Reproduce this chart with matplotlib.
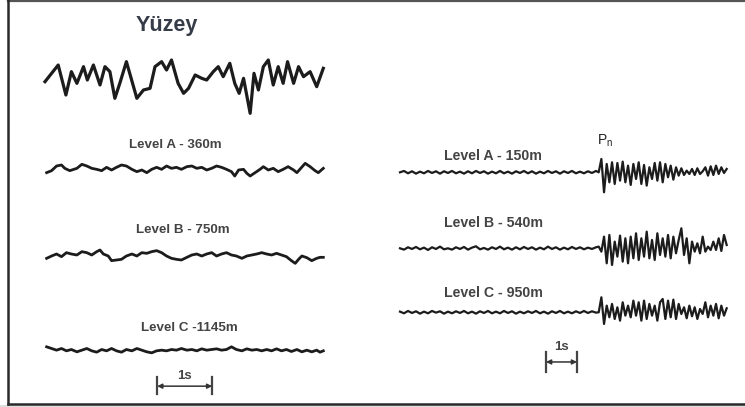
import numpy as np
import matplotlib
matplotlib.use('Agg')
import matplotlib.pyplot as plt

W, H = 745, 407
INK = '#1c1c1c'
LABEL = '#444444'
FONT = 'Liberation Sans'

# ---------------- data (time in s, amplitude in counts) ----------------
# surface record (Yuzey)
yuzey_t = [0.00, 0.24, 0.38, 0.48, 0.58, 0.70, 0.77, 0.88, 1.00, 1.09, 1.18, 1.27,
           1.36, 1.48, 1.67, 1.79, 1.91, 2.00, 2.12, 2.21, 2.30, 2.42, 2.52, 2.61,
           2.73, 2.85, 2.94, 3.06, 3.15, 3.24, 3.36, 3.45, 3.53, 3.61, 3.73, 3.80,
           3.88, 3.97, 4.06, 4.15, 4.24, 4.33, 4.41, 4.52, 4.61, 4.70, 4.82, 4.94, 5.06]
yuzey_a = [-5, 45, -45, 25, -10, 40, 0, 45, -15, 40, 25, -55, -10, 55, -55, -30,
           -25, 40, 55, 30, 60, -10, -40, -25, 15, 5, 0, 25, 40, 10, 50, -10,
           -40, 5, -100, 20, -30, 40, 60, -15, 40, -10, 55, -10, 40, 10, 25, -20, 35]

# borehole, site 1
a360_t = [0.03, 0.12, 0.21, 0.30, 0.36, 0.45, 0.58, 0.67, 0.76, 0.85, 0.94, 1.03,
          1.12, 1.21, 1.30, 1.39, 1.48, 1.58, 1.67, 1.76, 1.85, 1.94, 2.03, 2.12,
          2.21, 2.30, 2.39, 2.48, 2.58, 2.67, 2.76, 2.85, 2.94, 3.03, 3.12, 3.21,
          3.30, 3.39, 3.45, 3.52, 3.61, 3.67, 3.73, 3.82, 3.91, 3.97, 4.06, 4.15,
          4.24, 4.33, 4.42, 4.52, 4.58, 4.65, 4.73, 4.82, 4.91, 4.97, 5.06]
a360_a = [-8, -2, 12, 15, 5, -2, 5, 17, 12, 5, 2, -2, 8, 0, 8, 15, 12, 2, -5, 0,
          -8, 2, 8, 2, 12, 5, 8, 2, 10, 12, 5, 8, 0, 5, 12, 8, 2, -5, -18, 0,
          2, -10, -18, -8, 2, 10, 0, 5, -5, 2, 10, 0, -8, 5, 20, 10, -2, -8, 5]

b750_t = [0.03, 0.12, 0.21, 0.30, 0.39, 0.48, 0.58, 0.67, 0.76, 0.85, 0.94, 1.00,
          1.06, 1.15, 1.21, 1.30, 1.39, 1.48, 1.58, 1.67, 1.76, 1.85, 1.94, 2.03,
          2.12, 2.21, 2.30, 2.39, 2.48, 2.58, 2.67, 2.76, 2.85, 2.94, 3.03, 3.12,
          3.21, 3.30, 3.39, 3.48, 3.58, 3.67, 3.76, 3.85, 3.94, 4.03, 4.12, 4.21,
          4.30, 4.39, 4.48, 4.55, 4.61, 4.67, 4.76, 4.85, 4.94, 5.00, 5.06]
b750_a = [-7, 0, 6, -2, 10, 6, 3, 13, 10, 3, 13, 18, 6, 0, -14, -12, -10, 0, 6, 0,
          10, 8, 13, 16, 10, 0, -7, -10, -12, -4, 3, 6, 0, 6, 10, 0, 6, 10, 3, 0,
          -7, 0, 3, 6, 10, 6, 3, 8, 3, -2, -14, -22, -10, 0, -5, -14, -7, -4, -4]

c1145_t = [0.03, 0.12, 0.21, 0.30, 0.39, 0.48, 0.58, 0.67, 0.76, 0.85, 0.94, 1.03,
           1.12, 1.21, 1.30, 1.39, 1.48, 1.58, 1.67, 1.76, 1.85, 1.94, 2.03, 2.12,
           2.21, 2.30, 2.39, 2.48, 2.58, 2.67, 2.76, 2.85, 2.94, 3.03, 3.12, 3.21,
           3.30, 3.39, 3.48, 3.58, 3.67, 3.76, 3.85, 3.94, 4.03, 4.12, 4.21, 4.30,
           4.39, 4.48, 4.58, 4.67, 4.76, 4.85, 4.94, 5.00, 5.06]
c1145_a = [8, 3, -2, 3, -4, 0, -7, -2, 3, -4, -8, 0, -4, 3, -4, -8, 0, -4, 3, -2,
           -7, -10, -4, -2, -4, 0, -2, 3, -2, 0, -4, 2, -2, 0, 2, -2, 0, 8, 0, -4,
           2, -2, 0, -4, 0, -4, 2, -4, 0, -6, 0, -7, -2, -7, -2, -8, -4]

# borehole, site 2 (Pn arrival near 6.4 s)
right_t = np.concatenate([np.arange(50) * 0.129, 6.41 + np.arange(49) * 0.086])

a150_a = [0, 4, -3, 3, -4, 2, -3, 4, -2, 3, -4, 3, -2, 4, -3, 2, -4, 3, -3, 4,
          -2, 3, -4, 2, -3, 4, -3, 2, -4, 3, -2, 4, -3, 3, -4, 2, -3, 4, -2, 3,
          -4, 3, -2, 4, -3, 2, -3, 3, -2, 4,
          0, 40, -60, 25, -30, 30, -35, 28, -25, 32, -30, 20, -38, 25, -20, 30,
          -35, 22, -40, 15, -20, 28, -25, 30, -30, 25, -15, 20, -22, 15, -10, 12,
          -8, 5, -5, 10, -8, 12, -5, 3, 15, -10, 18, -8, 20, -5, 15, -2, 10]

b540_a = [0, -4, 3, -2, 4, -3, 2, -5, 3, -2, 5, -3, 0, -4, 3, -2, 4, -4, 2, 6,
          -3, 1, -4, 3, -2, 5, -3, 2, -4, 3, -3, 4, -2, 3, -4, 2, -3, 5, -2, 3,
          -4, 2, -3, 4, -2, 3, -3, 2, -2, 3,
          5, -10, 35, -45, 40, -50, 20, -25, 38, -40, 30, -45, 35, -30, 45, -35,
          30, -25, 50, -30, 25, -35, 45, -20, 30, -25, 40, -30, 35, -15, 25, 60,
          -20, 30, -45, 20, -10, 15, -15, 35, -10, 5, -5, 20, -5, 30, -8, 40, 10]

c950_a = [2, -3, 4, -2, 3, -4, 2, -3, 4, -1, 3, -4, 2, -3, 3, -2, 4, -3, 2, -4,
          3, -2, 4, -3, 2, -3, 4, -2, 3, -4, 2, -3, 3, -2, 4, -3, 2, -4, 3, -2,
          4, -3, 2, -3, 3, -2, 4, -2, 3, -1,
          0, 45, -35, 20, -15, 25, -20, 15, -25, 30, -10, 20, -15, 35, -10, 30,
          -25, 35, -20, 25, -10, 20, -25, 30, 40, -20, 35, -15, 38, -20, 25, -5,
          15, -18, 20, -12, 15, -20, 10, -5, 30, -15, 20, -10, 25, -18, 20, -10, 12]

labels_left = ['Level A - 360m', 'Level B - 750m', 'Level C -1145m']
labels_right = ['Level A - 150m', 'Level B - 540m', 'Level C - 950m']

# ---------------- figure ----------------
fig = plt.figure(figsize=(W / 100, H / 100), dpi=100)
bg = fig.add_axes([0, 0, 1, 1])
bg.set_xlim(0, W)
bg.set_ylim(H, 0)
bg.axis('off')

# frame
bg.add_patch(plt.Rectangle((0, 404.5), W, 3, color='#dedede', lw=0))
bg.plot([8, W], [0.6, 0.6], color='#555555', lw=1.6)
bg.plot([8.3, 8.3], [0, 404], color='#2a2a2a', lw=1.8)
bg.plot([8, W], [403.6, 403.6], color='#2a2a2a', lw=1.8)


def trace_axes(x0, px_per_s, tmax, y_base):
    # 1 count = 1/3 px vertically, axes is 100 px tall centred on the trace
    ax = fig.add_axes([x0 / W, 1 - (y_base + 50) / H, px_per_s * tmax / W, 100 / H])
    ax.set_xlim(0, tmax)
    ax.set_ylim(-150, 150)
    ax.axis('off')
    ax.patch.set_visible(False)
    return ax


def scale_bar(ax, t0, y_bar, y_lo, y_hi, y_txt):
    ax.annotate('', xy=(t0, y_bar), xytext=(t0 + 1, y_bar),
                arrowprops=dict(arrowstyle='<|-|>', color='#333333', lw=1.1,
                                mutation_scale=7, shrinkA=0, shrinkB=0),
                annotation_clip=False)
    for tt in (t0, t0 + 1):
        ax.plot([tt, tt], [y_lo, y_hi], color='#444444', lw=1.6, clip_on=False)
    ax.text(t0 + 0.5, y_txt, '1s', ha='center', va='center', fontsize=9.5,
            fontweight='bold', color=LABEL, family=FONT)


# left column
ax = trace_axes(45, 55, 5.1, 80)
ax.plot(yuzey_t, yuzey_a, color=INK, lw=2.3, solid_joinstyle='round', clip_on=False)
bg.text(167, 25, 'Yüzey', ha='center', va='center', fontsize=15.5,
        fontweight='bold', color='#353b47', family=FONT)

left_traces = [(a360_t, a360_a, 170), (b750_t, b750_a, 256), (c1145_t, c1145_a, 349.5)]
label_pos_left = [(175, 145), (183, 230), (189, 328)]
for (t, a, yb), lab, (lx, ly) in zip(left_traces, labels_left, label_pos_left):
    ax = trace_axes(45, 55, 5.1, yb)
    ax.plot(t, a, color=INK, lw=2.0, solid_joinstyle='round', clip_on=False)
    bg.text(lx, ly, lab, ha='center', va='center', fontsize=9.6,
            fontweight='bold', color=LABEL, family=FONT)
scale_bar(ax, 2.04, -110, -83, -134, -80)

# right column
right_traces = [(a150_a, 172.3), (b540_a, 248.3), (c950_a, 312.3)]
label_pos_right = [(493, 156), (493, 223), (493, 293)]
for (a, yb), lab, (lx, ly) in zip(right_traces, labels_right, label_pos_right):
    ax = trace_axes(400, 31, 10.6, yb)
    ax.plot(right_t, a, color=INK, lw=1.6, solid_joinstyle='round', clip_on=False)
    bg.text(lx, ly, lab, ha='center', va='center', fontsize=10.2,
            fontweight='bold', color=LABEL, family=FONT)
scale_bar(ax, 4.71, -149, -119, -179, -104)

bg.text(597, 141, r'P$_{\mathregular{n}}$', ha='left', va='center', fontsize=10,
        color='#222222', family=FONT)

fig.savefig('out.png', dpi=100)
